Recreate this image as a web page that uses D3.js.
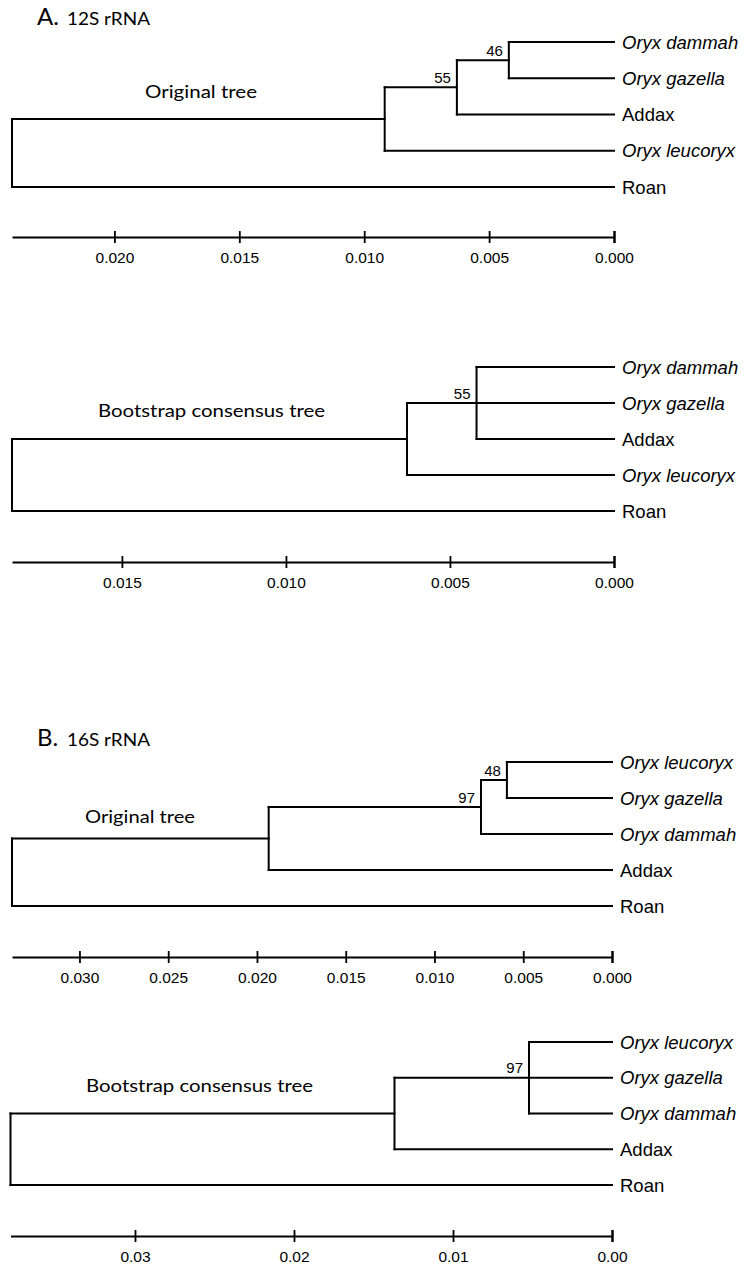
<!DOCTYPE html>
<html>
<head>
<meta charset="utf-8">
<script src="https://cdn.jsdelivr.net/npm/d3@7"></script>
<style>
  html, body { margin: 0; padding: 0; background: #fff; }
  svg { display: block; }
</style>
</head>
<body>
<svg id="chart" width="749" height="1266"></svg>
<script>
// ---------- DATA ----------
// Panel A: 12S rRNA
const leavesA1 = ["Oryx dammah", "Oryx gazella", "Addax", "Oryx leucoryx", "Roan"];
const heightsA1 = [0.0241, 0.00918, 0.00629, 0.00421];   // root, clade, node55, node46
const supportA1 = [null, null, 55, 46];
const ticksA1 = [0.020, 0.015, 0.010, 0.005, 0.000];

const leavesA2 = ["Oryx dammah", "Oryx gazella", "Addax", "Oryx leucoryx", "Roan"];
const heightsA2 = [0.01835, 0.00631, 0.00419];            // root, clade, node55
const supportA2 = [null, null, 55];
const ticksA2 = [0.015, 0.010, 0.005, 0.000];

// Panel B: 16S rRNA
const leavesB1 = ["Oryx leucoryx", "Oryx gazella", "Oryx dammah", "Addax", "Roan"];
const heightsB1 = [0.0338, 0.01934, 0.00738, 0.00592];    // root, clade, node97, node48
const supportB1 = [null, null, 97, 48];
const ticksB1 = [0.030, 0.025, 0.020, 0.015, 0.010, 0.005, 0.000];

const leavesB2 = ["Oryx leucoryx", "Oryx gazella", "Oryx dammah", "Addax", "Roan"];
const heightsB2 = [0.03783, 0.01368, 0.00522];            // root, clade, node97
const supportB2 = [null, null, 97];
const ticksB2 = [0.03, 0.02, 0.01, 0.00];

// ---------- TREE TOPOLOGIES (built from the arrays) ----------
const leaf = n => ({ name: n });
const treeA1 = { h: heightsA1[0], s: supportA1[0], children: [
  { h: heightsA1[1], s: supportA1[1], children: [
    { h: heightsA1[2], s: supportA1[2], children: [
      { h: heightsA1[3], s: supportA1[3], children: [leaf(leavesA1[0]), leaf(leavesA1[1])] },
      leaf(leavesA1[2]) ] },
    leaf(leavesA1[3]) ] },
  leaf(leavesA1[4]) ] };

const treeA2 = { h: heightsA2[0], s: supportA2[0], children: [
  { h: heightsA2[1], s: supportA2[1], children: [
    { h: heightsA2[2], s: supportA2[2], children: [leaf(leavesA2[0]), leaf(leavesA2[1]), leaf(leavesA2[2])] },
    leaf(leavesA2[3]) ] },
  leaf(leavesA2[4]) ] };

const treeB1 = { h: heightsB1[0], s: supportB1[0], children: [
  { h: heightsB1[1], s: supportB1[1], children: [
    { h: heightsB1[2], s: supportB1[2], children: [
      { h: heightsB1[3], s: supportB1[3], children: [leaf(leavesB1[0]), leaf(leavesB1[1])] },
      leaf(leavesB1[2]) ] },
    leaf(leavesB1[3]) ] },
  leaf(leavesB1[4]) ] };

const treeB2 = { h: heightsB2[0], s: supportB2[0], children: [
  { h: heightsB2[1], s: supportB2[1], children: [
    { h: heightsB2[2], s: supportB2[2], children: [leaf(leavesB2[0]), leaf(leavesB2[1]), leaf(leavesB2[2])] },
    leaf(leavesB2[3]) ] },
  leaf(leavesB2[4]) ] };

// ---------- DRAWING ----------
const svg = d3.select("#chart");
const LABEL_FONT = "'Liberation Sans', Arial, sans-serif";
const TITLE_FONT = "Lato, 'Open Sans', sans-serif";

function drawTree(cfg) {
  const g = svg.append("g");
  const root = d3.hierarchy(cfg.tree);
  const x = d3.scaleLinear().domain([cfg.tree.h, 0]).range([cfg.x0, cfg.x1]);
  const y = d3.scalePoint().domain(cfg.leaves).range([cfg.yTop, cfg.yBot]);

  root.eachAfter(d => {
    d.px = d.children ? x(d.data.h) : x(0);
    d.py = d.children ? (d.children[0].py + d.children[d.children.length - 1].py) / 2 : y(d.data.name);
  });

  g.selectAll("line.h").data(root.descendants().filter(d => d.parent))
    .join("line").attr("class", "h")
    .attr("x1", d => d.parent.px).attr("x2", d => d.px)
    .attr("y1", d => d.py).attr("y2", d => d.py)
    .attr("stroke", "#000").attr("stroke-width", 2).attr("stroke-linecap", "square");

  g.selectAll("line.v").data(root.descendants().filter(d => d.children))
    .join("line").attr("class", "v")
    .attr("x1", d => d.px).attr("x2", d => d.px)
    .attr("y1", d => d.children[0].py).attr("y2", d => d.children[d.children.length - 1].py)
    .attr("stroke", "#000").attr("stroke-width", 2).attr("stroke-linecap", "square");

  g.selectAll("text.leaf").data(root.leaves())
    .join("text").attr("class", "leaf")
    .attr("x", d => d.px + 8).attr("y", d => d.py)
    .attr("dy", "0.36em")
    .attr("font-family", LABEL_FONT).attr("font-size", 18.5)
    .attr("font-style", d => d.data.name.startsWith("Oryx") ? "italic" : "normal")
    .text(d => d.data.name);

  g.selectAll("text.sup").data(root.descendants().filter(d => d.data.s != null))
    .join("text").attr("class", "sup")
    .attr("x", d => d.px - 6).attr("y", d => d.py - 4.5)
    .attr("text-anchor", "end")
    .attr("font-family", LABEL_FONT).attr("font-size", 15)
    .text(d => d.data.s);

  g.append("text")
    .attr("x", cfg.cap[0]).attr("y", cfg.cap[1])
    .attr("font-family", TITLE_FONT).attr("font-size", 17)
    .attr("textLength", cfg.cap[2]).attr("lengthAdjust", "spacingAndGlyphs")
    .text(cfg.caption);

  const axis = d3.axisBottom(x).tickValues(cfg.ticks).tickFormat(d3.format(cfg.fmt))
    .tickSizeInner(12).tickSizeOuter(0);
  const ag = g.append("g").attr("transform", `translate(0,${cfg.axisY})`).call(axis);
  ag.select(".domain").attr("stroke", "#000").attr("stroke-width", 2);
  ag.selectAll(".tick line").attr("y1", -6).attr("y2", 6)
    .attr("stroke", "#000").attr("stroke-width", d => d === 0 ? 2.5 : 1.8);
  ag.selectAll(".tick text").attr("y", 26).attr("dy", null)
    .attr("font-family", LABEL_FONT).attr("font-size", 15.5).attr("fill", "#000");
}

function sectionTitle(letter, rest, yBase, restLen) {
  const t = svg.append("g");
  t.append("text").attr("x", 37).attr("y", yBase)
    .attr("font-family", TITLE_FONT).attr("font-size", 24).text(letter);
  t.append("text").attr("x", 67).attr("y", yBase)
    .attr("font-family", TITLE_FONT).attr("font-size", 16.5)
    .attr("textLength", restLen).attr("lengthAdjust", "spacingAndGlyphs").text(rest);
}

sectionTitle("A.", "12S rRNA", 25, 83);
sectionTitle("B.", "16S rRNA", 746, 83);

drawTree({ tree: treeA1, leaves: leavesA1, x0: 12, x1: 614, yTop: 42, yBot: 187,
  axisY: 237, ticks: ticksA1, fmt: ".3f", caption: "Original tree", cap: [145, 98, 112] });
drawTree({ tree: treeA2, leaves: leavesA2, x0: 12, x1: 614, yTop: 367, yBot: 511,
  axisY: 562, ticks: ticksA2, fmt: ".3f", caption: "Bootstrap consensus tree", cap: [98, 417, 227] });
drawTree({ tree: treeB1, leaves: leavesB1, x0: 12, x1: 612, yTop: 762, yBot: 906,
  axisY: 957, ticks: ticksB1, fmt: ".3f", caption: "Original tree", cap: [85, 823, 110] });
drawTree({ tree: treeB2, leaves: leavesB2, x0: 10.5, x1: 612, yTop: 1042, yBot: 1185,
  axisY: 1236, ticks: ticksB2, fmt: ".2f", caption: "Bootstrap consensus tree", cap: [86, 1092, 227] });
</script>
</body>
</html>
